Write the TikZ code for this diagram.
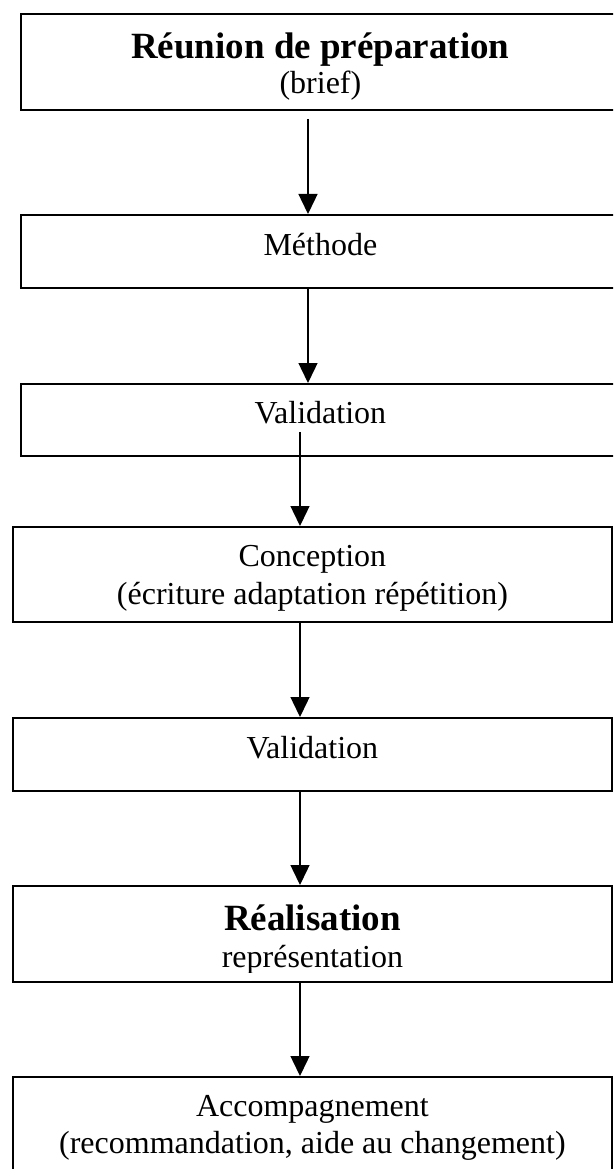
\documentclass[tikz,border=0pt]{standalone}
\usepackage{fontspec}
\setmainfont{Liberation Serif}
\usetikzlibrary{arrows.meta}
\begin{document}
\begin{tikzpicture}[x=1pt,y=-1pt,
  box/.style={draw=black,line width=1.8pt,minimum width=599pt,inner sep=0pt,anchor=north west},
  txt/.style={anchor=base,inner sep=0pt,font=\fontsize{32}{38}\selectfont},
  btxt/.style={anchor=base,inner sep=0pt,font=\fontsize{37}{44}\selectfont\bfseries},
  arr/.style={line width=1.4pt,-{Triangle[length=20pt,width=19pt]}}]
\useasboundingbox (0,0) rectangle (613,1169);
\clip (0,0) rectangle (613,1169);
\fill[white] (0,0) rectangle (613,1169);
% boxes
\node[box,minimum height=96pt] (r1) at (20,13) {};
\node[box,minimum height=73pt] (r2) at (20,214) {};
\node[box,minimum height=72pt] (r3) at (20,383) {};
\node[box,minimum height=95pt] (r4) at (12,526) {};
\node[box,minimum height=73pt] (r5) at (12,717) {};
\node[box,minimum height=96pt] (r6) at (12,885) {};
\node[box,minimum height=96pt] (r7) at (12,1076) {};
% texts
\node[btxt] (t1a) at (r1.north |- 0,59) {Réunion de préparation};
\node[txt] (t1b) at (r1.north |- 0,94) {(brief)};
\node[txt] (t2) at (r2.north |- 0,255) {Méthode};
\node[txt] (t3) at (r3.north |- 0,423) {Validation};
\node[txt] (t4a) at (r4.north |- 0,566) {Conception};
\node[txt] (t4b) at (r4.north |- 0,604) {(écriture adaptation répétition)};
\node[txt] (t5) at (r5.north |- 0,758) {Validation};
\node[btxt] (t6a) at (r6.north |- 0,930) {Réalisation};
\begin{scope}
\clip (0,0) rectangle (613,972);
\node[txt] (t6b) at (r6.north |- 0,967) {représentation};
\end{scope}
\node[txt] (t7a) at (r7.north |- 0,1116.5) {Accompagnement};
\node[txt] (t7b) at (r7.north |- 0,1153) {(recommandation, aide au changement)};
% arrows
\coordinate (xa) at (308,0);
\coordinate (xb) at (300,0);
\draw[arr,shorten <=8pt] (r1.south -| xa) -- (r2.north -| xa);
\draw[arr] (r2.south -| xa) -- (r3.north -| xa);
\draw[arr,shorten <=-25pt] (r3.south -| xb) -- (r4.north -| xb);
\draw[arr] (r4.south -| xb) -- (r5.north -| xb);
\draw[arr] (r5.south -| xb) -- (r6.north -| xb);
\draw[arr] (r6.south -| xb) -- (r7.north -| xb);
\end{tikzpicture}
\end{document}
